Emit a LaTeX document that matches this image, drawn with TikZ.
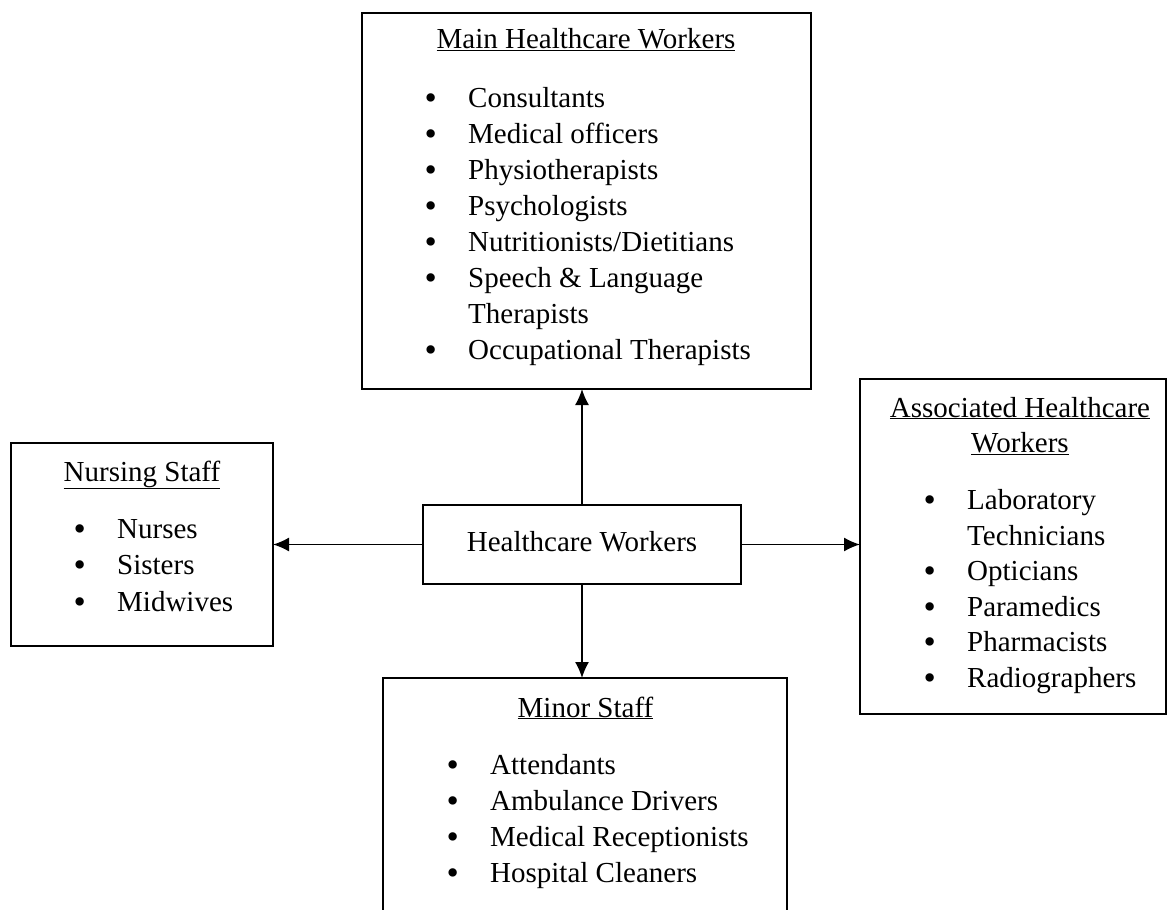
\documentclass[tikz,border=0pt]{standalone}
\usepackage{fontspec}
\setmainfont{Liberation Serif}
\usepackage{tikz}
\usetikzlibrary{arrows.meta}
\usetikzlibrary{positioning}

\tikzset{
  box/.style={draw, line width=1.5pt, inner sep=0pt, outer sep=0pt},
  arr/.style={line width=1.5pt, -{Latex[length=16pt,width=14pt]}},
  head/.style={anchor=base, inner sep=0pt},
  entry/.style={anchor=base west, inner sep=0pt, text height=21pt, text depth=7pt,
    label={[inner sep=0pt, text height=21pt, text depth=7pt, label distance=31pt]left:\raisebox{-2pt}{\fontsize{35}{30}\selectfont\textbullet}}},
  cont/.style={anchor=base west, inner sep=0pt}
}

\begin{document}
\begin{tikzpicture}[x=1pt, y=-1pt, every node/.style={font=\fontsize{29}{36}\selectfont}]
		\clip (0,0) rectangle (1168,910);

		% Boxes
		\node[box, minimum width=449pt, minimum height=376pt] (main)    at (586.5,201)  {};
		\node[box, minimum width=262pt, minimum height=203pt] (nursing) at (142,544.5)  {};
		\node[box, minimum width=318pt, minimum height=79pt]  (hw)      at (582,544.5)  {};
		\node[box, minimum width=306pt, minimum height=335pt] (assoc)   at (1013,546.5) {};
		\node[box, minimum width=404pt, minimum height=262pt] (minor)   at (585,809)    {};

		% Centre
		\node[head] (hwt) at (582,551) {Healthcare Workers};

		% Main healthcare workers
		\node[head] (mainh) at (586,48) {\underline{Main Healthcare Workers}};
		\node[entry] (m1) at (468,107) {Consultants};
		\node[entry] (m2) at (468,143) {Medical officers};
		\node[entry] (m3) at (468,179) {Physiotherapists};
		\node[entry] (m4) at (468,215) {Psychologists};
		\node[entry] (m5) at (468,251) {Nutritionists/Dietitians};
		\node[entry] (m6) at (468,287) {Speech \& Language};
		\node[cont]  (m6b) at (468,323) {Therapists};
		\node[entry] (m7) at (468,359) {Occupational Therapists};

		% Nursing staff
		\node[head] (nursingh) at (142,481) {\underline{Nursing Staff}};
		\node[entry] (n1) at (117,538) {Nurses};
		\node[entry] (n2) at (117,574) {Sisters};
		\node[entry] (n3) at (117,611) {Midwives};

		% Associated healthcare workers
		\node[head] (assoch1) at (1020,417) {\underline{Associated Healthcare}};
		\node[head] (assoch2) at (1020,452) {\underline{Workers}};
		\node[entry] (a1)  at (967,509.5) {Laboratory};
		\node[cont]  (a1b) at (967,545)   {Technicians};
		\node[entry] (a2)  at (967,580.5) {Opticians};
		\node[entry] (a3)  at (967,616)   {Paramedics};
		\node[entry] (a4)  at (967,651.5) {Pharmacists};
		\node[entry] (a5)  at (967,687)   {Radiographers};

		% Minor staff
		\node[head] (minorh) at (585.5,717) {\underline{Minor Staff}};
		\node[entry] (s1) at (490,774) {Attendants};
		\node[entry] (s2) at (490,810) {Ambulance Drivers};
		\node[entry] (s3) at (490,846) {Medical Receptionists};
		\node[entry] (s4) at (490,882) {Hospital Cleaners};

		% Arrows
		\draw[arr] (hw.north) -- (hw.north |- main.south);
		\draw[arr] (hw.west)  -- (hw.west -| nursing.east);
		\draw[arr] (hw.east)  -- (hw.east -| assoc.west);
		\draw[arr] (hw.south) -- (hw.south |- minor.north);
	\end{tikzpicture}
\end{document}
